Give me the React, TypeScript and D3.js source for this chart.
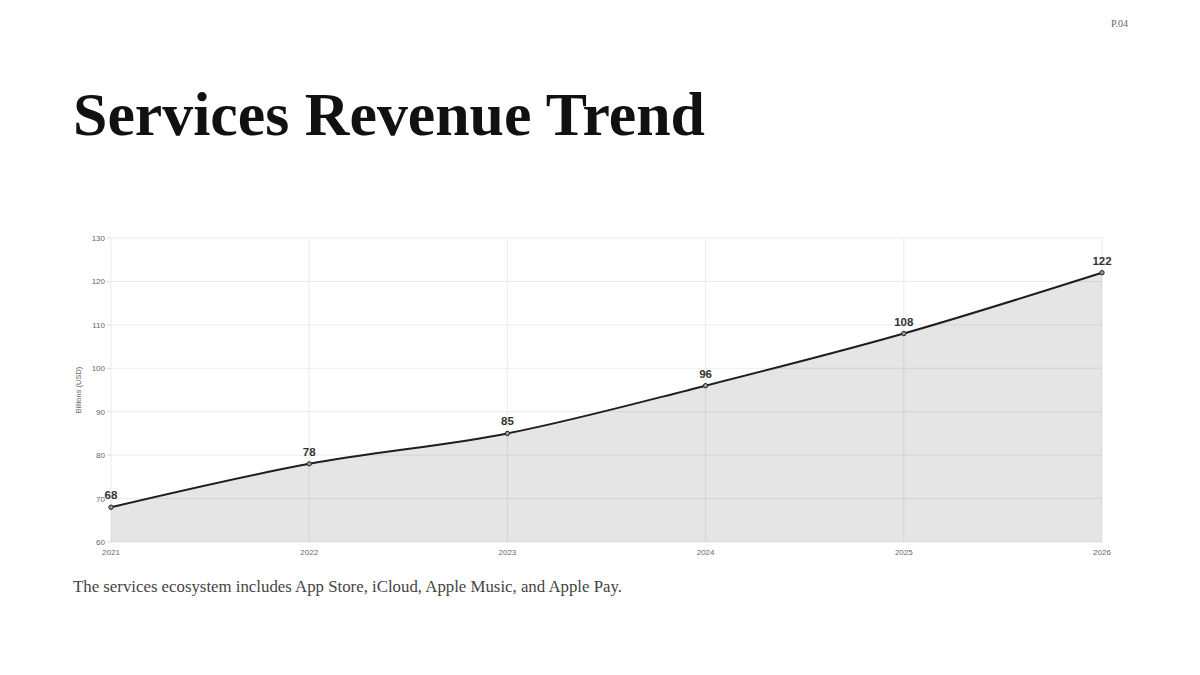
import * as React from 'react';
import * as d3 from 'd3';

const years = ['2021', '2022', '2023', '2024', '2025', '2026'];
const revenue = [68, 78, 85, 96, 108, 122];
const yTicks = [60, 70, 80, 90, 100, 110, 120, 130];

const W = 1200;
const H = 675;
const plot = { left: 111, right: 1102, top: 238, bottom: 542 };

const App: React.FC = () => {
    const x = d3.scalePoint<string>().domain(years).range([plot.left, plot.right]);
    const y = d3.scaleLinear().domain([60, 130]).range([plot.bottom, plot.top]);

    const pts: [number, number][] = years.map((yr, i) => [x(yr) as number, y(revenue[i])]);

    const line = d3.line<[number, number]>().x(d => d[0]).y(d => d[1]).curve(d3.curveMonotoneX);
    const area = d3.area<[number, number]>().x(d => d[0]).y0(plot.bottom).y1(d => d[1]).curve(d3.curveMonotoneX);

    const sans = 'Helvetica, Arial, "Liberation Sans", sans-serif';
    const serif = '"Liberation Serif", "Times New Roman", serif';

    return (
        <svg width={W} height={H} style={{ position: 'absolute', left: 0, top: 0, background: '#fff' }}>
            <text x={1128} y={27} textAnchor="end" fontFamily={serif} fontSize={10} fill="#666">P.04</text>
            <text x={73} y={135} fontFamily={serif} fontWeight={700} fontSize={62} fill="#111"
                textLength={632} lengthAdjust="spacingAndGlyphs">Services Revenue Trend</text>

            {/* grid */}
            {yTicks.map(t => (
                <line key={'gy' + t} x1={plot.left} x2={plot.right} y1={y(t)} y2={y(t)} stroke="#ebebeb" strokeWidth={1} />
            ))}
            {years.map(yr => (
                <line key={'gx' + yr} x1={x(yr)} x2={x(yr)} y1={plot.top} y2={plot.bottom} stroke="#ebebeb" strokeWidth={1} />
            ))}
            {/* tick marks */}
            {yTicks.map(t => (
                <line key={'ty' + t} x1={plot.left - 4} x2={plot.left} y1={y(t)} y2={y(t)} stroke="#ddd" />
            ))}

            <path d={area(pts) || ''} fill="rgba(0,0,0,0.1)" />
            <path d={line(pts) || ''} fill="none" stroke="#1e1e1e" strokeWidth={2} />

            {pts.map((p, i) => (
                <g key={'p' + i}>
                    <circle cx={p[0]} cy={p[1]} r={2.2} fill="#999" stroke="#222" strokeWidth={1} />
                    <text x={p[0]} y={p[1] - 8} textAnchor="middle" fontFamily={sans} fontWeight={700} fontSize={11.5} fill="#333">{revenue[i]}</text>
                </g>
            ))}

            {/* axes labels */}
            {yTicks.map(t => (
                <text key={'yl' + t} x={plot.left - 6} y={y(t) + 3} textAnchor="end" fontFamily={sans} fontSize={8} fill="#666">{t}</text>
            ))}
            {years.map(yr => (
                <text key={'xl' + yr} x={x(yr)} y={plot.bottom + 13} textAnchor="middle" fontFamily={sans} fontSize={8} fill="#666">{yr}</text>
            ))}
            <text transform={`translate(81,${(plot.top + plot.bottom) / 2}) rotate(-90)`} textAnchor="middle"
                fontFamily={sans} fontSize={7.5} fill="#666">Billions (USD)</text>

            <text x={73} y={592} fontFamily={serif} fontSize={16.5} fill="#444"
                textLength={549} lengthAdjust="spacingAndGlyphs">The services ecosystem includes App Store, iCloud, Apple Music, and Apple Pay.</text>
        </svg>
    );
};

export default App;
